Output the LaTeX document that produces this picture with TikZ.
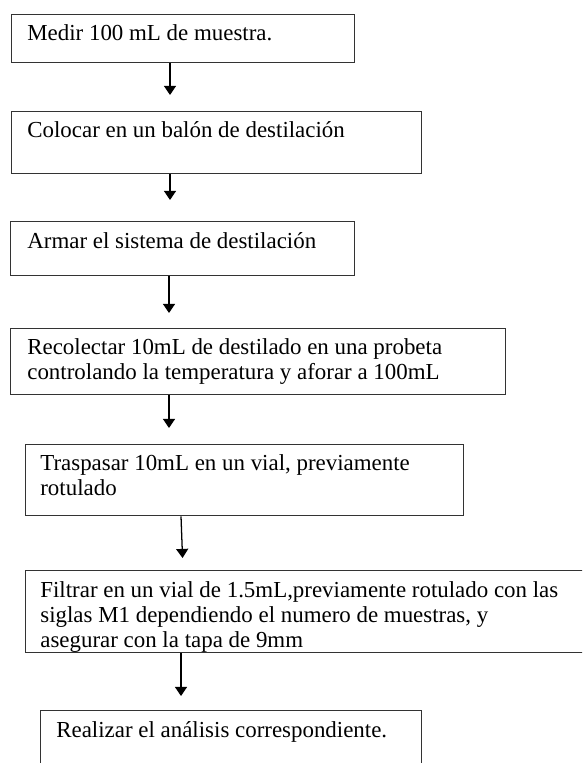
\documentclass[tikz,border=0pt]{standalone}
\usepackage{fontspec}
\setmainfont{Liberation Serif}
\usetikzlibrary{arrows.meta}

\begin{document}
\begin{tikzpicture}[x=0.55pt,y=-0.55pt]
	\tikzset{paso/.style={draw=black!80,line width=0.7pt,rectangle,anchor=north west,inner sep=0pt}}
	\tikzset{texto/.style={anchor=base west,align=left,inner sep=0pt,font=\fontsize{12.6}{13.75}\selectfont}}
	\tikzset{flecha/.style={draw=black,line width=0.7pt,-{Triangle[width=6.6pt,length=5pt]}}}
	\useasboundingbox (0,0) rectangle (582,763);
	\clip (0,0) rectangle (582,763);
	% cajas
	\node[paso,minimum width=188.65pt,minimum height=26.4pt] (b1) at (11,14) {};
	\node[paso,minimum width=225.5pt,minimum height=34.1pt] (b2) at (11,111) {};
	\node[paso,minimum width=189.2pt,minimum height=29.7pt] (b3) at (10,221) {};
	\node[paso,minimum width=272.25pt,minimum height=36.3pt] (b4) at (10,328) {};
	\node[paso,minimum width=240.9pt,minimum height=39.05pt] (b5) at (25,444) {};
	\node[paso,minimum width=330pt,minimum height=45.1pt] (b6) at (25,570) {};
	\node[paso,minimum width=209.55pt,minimum height=44pt] (b7) at (40,710) {};
	% textos (base = ultima linea)
	\node[texto] (t1) at (27,41) {Medir 100 mL de muestra.};
	\node[texto] (t2) at (27,138) {Colocar en un balón de destilación};
	\node[texto] (t3) at (27,249) {Armar el sistema de destilación};
	\node[texto] (t4) at (27,380) {Recolectar 10mL de destilado en una probeta\\controlando la temperatura y aforar a 100mL};
	\node[texto] (t5) at (40,495) {Traspasar 10mL en un vial, previamente\\rotulado};
	\begin{scope}
		\clip (b6.north west) rectangle (b6.south east);
		\node[texto] (t6) at (40,647) {Filtrar en un vial de 1.5mL,previamente rotulado con las\\siglas M1 dependiendo el numero de muestras, y\\asegurar con la tapa de 9mm};
	\end{scope}
	\node[texto] (t7) at (56,737) {Realizar el análisis correspondiente.};
	% flechas
	\coordinate (f1) at (170,0);
	\coordinate (f2) at (169,0);
	\coordinate (f3) at (181,0);
	\coordinate (f4) at (183,0);
	\draw[flecha,shorten >=8.8pt] (b1.south -| f1) -- (b2.north -| f1);
	\draw[flecha,shorten >=11.55pt] (b2.south -| f1) -- (b3.north -| f1);
	\draw[flecha,shorten >=8.25pt] (b3.south -| f2) -- (b4.north -| f2);
	\draw[flecha,shorten >=8.8pt] (b4.south -| f2) -- (b5.north -| f2);
	\draw[flecha,shorten >=6.6pt] (b5.south -| f3) -- (b6.north -| f4);
	\draw[flecha,shorten >=7.7pt] (b6.south -| f3) -- (b7.north -| f3);
\end{tikzpicture}
\end{document}
